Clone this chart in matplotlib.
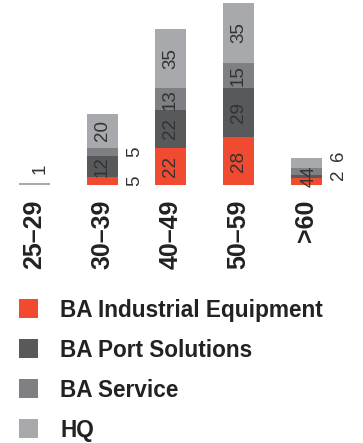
import matplotlib
matplotlib.use("Agg")
import matplotlib.pyplot as plt
from matplotlib.patches import Rectangle

categories = ["25–29", "30–39", "40–49", "50–59", ">60"]
series_names = ["BA Industrial Equipment", "BA Port Solutions", "BA Service", "HQ"]
industrial = [0, 5, 22, 28, 4]
port = [0, 12, 22, 29, 2]
service = [0, 5, 13, 15, 4]
hq = [1, 20, 35, 35, 6]
colors = ["#F04A30", "#58595B", "#7F8084", "#A8A9AD"]
# labels written beside the bar instead of inside: (category index, series index)
outside_labels = {(1, 0), (1, 2), (4, 1), (4, 3)}

W, H = 363, 443
fig = plt.figure(figsize=(W / 100, H / 100), dpi=100)
plt.rcParams['font.family'] = ['Liberation Sans', 'DejaVu Sans']

base_px = 185.0
px_per_unit = 1.7
ax = fig.add_axes([0.5 / W, (H - base_px) / H, 340 / W, base_px / H])
ax.set_xlim(-0.5, 4.5)
ax.set_ylim(0, base_px / px_per_unit)
ax.axis("off")

series = [industrial, port, service, hq]
x = list(range(len(categories)))
bw = 31 / 68
bottoms = [0] * len(categories)
txtc = "#333333"
vfs = 13.5
for si, vals in enumerate(series):
    ax.bar(x, vals, bw, bottom=bottoms, color=colors[si], linewidth=0)
    for i, v in enumerate(vals):
        if v == 0:
            continue
        mid = bottoms[i] + v / 2
        if i == 0:
            ax.annotate(str(v), (i, bottoms[i] + v), xytext=(6, 9),
                        textcoords="offset pixels", rotation=90,
                        ha="center", va="bottom", fontsize=vfs, color=txtc)
        elif (i, si) in outside_labels:
            dy = 0
            if i == 4 and si == 3:
                dy = 7
            if i == 4 and si == 1:
                dy = 2
            ax.annotate(str(v), (i + 0.47, mid), xytext=(0, dy),
                        textcoords="offset pixels", rotation=90,
                        ha="center", va="center", fontsize=vfs, color=txtc)
        else:
            dx = 3 if i == 4 else 0
            ax.annotate(str(v), (i, mid), xytext=(dx, 0),
                        textcoords="offset pixels", rotation=90,
                        ha="center", va="center", fontsize=vfs, color=txtc)
    bottoms = [b + v for b, v in zip(bottoms, vals)]

for i, c in enumerate(categories):
    ax.annotate(c, (i, 0), xytext=(0, -15), textcoords="offset pixels",
                rotation=90, ha="center", va="top", fontsize=18,
                fontweight="bold", color="#222222")

rows_y = [308, 348, 388, 428]
for name, col, yc in zip(series_names, colors, rows_y):
    fig.patches.append(Rectangle((19 / W, (H - yc - 9.5) / H), 19 / W, 19 / H,
                                 transform=fig.transFigure, color=col, linewidth=0))
    fig.text(60 / W, (H - yc) / H, name, ha="left", va="center_baseline",
             fontsize=16.3, fontweight="bold", color="#222222")

fig.savefig("out.png", dpi=100)
